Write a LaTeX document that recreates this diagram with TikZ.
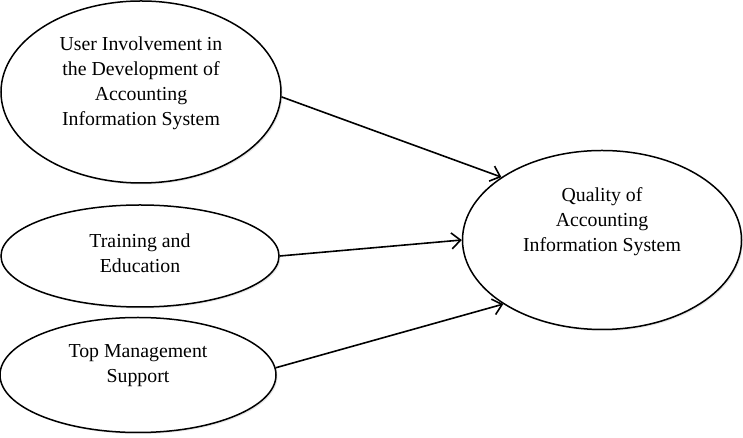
\documentclass[tikz,border=0pt]{standalone}
\usepackage{fontspec}
\setmainfont{Liberation Serif}
\usetikzlibrary{shapes.geometric,arrows.meta,shadows}

\begin{document}
\begin{tikzpicture}[x=1pt,y=1pt,
    factor/.style={ellipse, draw, line width=1.5pt, fill=white,
        drop shadow={shadow xshift=1.5pt, shadow yshift=-1.5pt, opacity=0.2}},
    txt/.style={align=center, font=\fontsize{19.8}{25}\selectfont},
    link/.style={-{Straight Barb[length=9pt,width=16pt]}, line width=1.6pt}]
    \useasboundingbox (0,0) rectangle (743,438);

    % factors on the left
        \node[factor, minimum width=280pt, minimum height=182pt] (inv) at (141,346) {};
        \node[factor, minimum width=278pt, minimum height=102pt] (train) at (140,182) {};
        \node[factor, minimum width=276pt, minimum height=115pt] (top) at (138,63) {};

    % dependent variable
        \node[factor, minimum width=279pt, minimum height=179pt] (qual) at (602,198) {};

    % texts
    \node[txt] (inv-txt) at ([yshift=9pt]inv) {User Involvement in\\the Development of\\Accounting\\Information System};
    \node[txt] (train-txt) at ([yshift=3pt]train) {Training and\\Education};
    \node[txt] (top-txt) at ([yshift=9pt]top) {Top Management\\Support};
    \node[txt] (qual-txt) at ([yshift=18pt]qual) {Quality of\\Accounting\\Information System};

    % arrows
    \draw[link] (inv.-2) -- (qual.148);
    \draw[link] (train.east) -- (qual.west);
    \draw[link] (top.3) -- (qual.213);

\end{tikzpicture}
\end{document}
